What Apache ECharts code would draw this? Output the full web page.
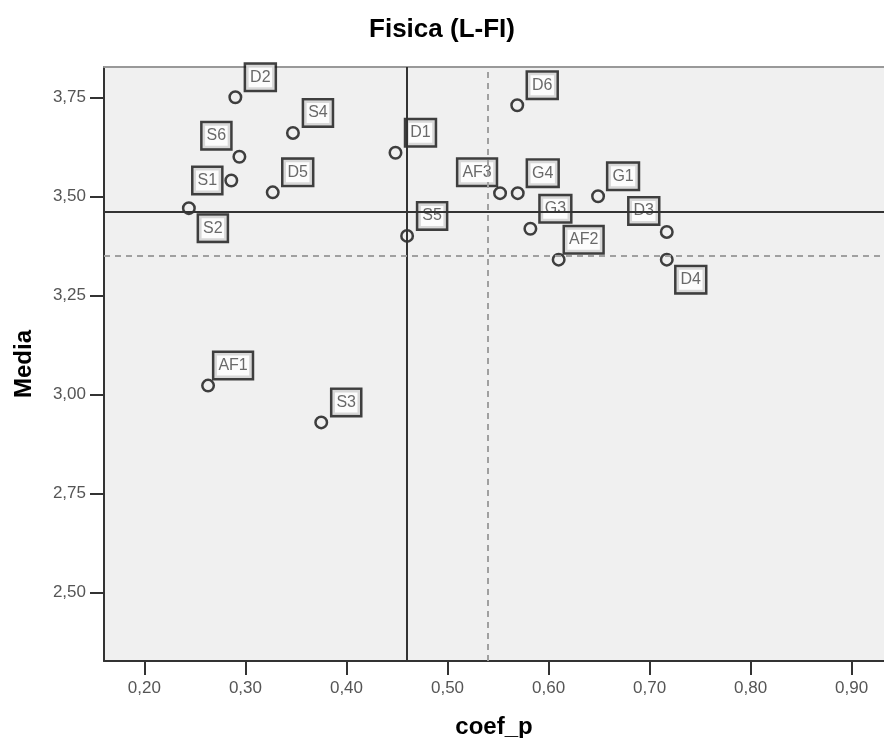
<!DOCTYPE html>
<html>
<head>
<meta charset="utf-8">
<script src="https://cdn.jsdelivr.net/npm/echarts@6/dist/echarts.min.js"></script>
<style>
html,body{margin:0;padding:0;background:#fff;}
#chart{width:884px;height:738px;}
</style>
</head>
<body>
<div id="chart"></div>
<script>
// ---- data ----
const categories = ['D2','S6','S1','S2','D5','S4','D1','S5','AF3','G4','D6','G3','AF2','G1','D3','D4','AF1','S3'];
const coefP = [0.290,0.294,0.286,0.244,0.327,0.347,0.4485,0.460,0.552,0.5695,0.569,0.582,0.610,0.649,0.717,0.717,0.263,0.375];
const media = [3.75,3.60,3.54,3.47,3.51,3.66,3.61,3.40,3.508,3.508,3.73,3.418,3.34,3.50,3.41,3.34,3.022,2.929];
const xTicks = [0.20,0.30,0.40,0.50,0.60,0.70,0.80,0.90];
const yTicks = [2.50,2.75,3.00,3.25,3.50,3.75];
const refSolid = {x: 0.460, y: 3.460};
const refDashed = {x: 0.540, y: 3.351};

// ---- label placement (style) ----
const placeOf = {S6:'ul', AF3:'ul', D3:'ul', S1:'l', S2:'dr', D4:'dr'};
const offsets = {ur:[25,-20], ul:[-23,-21], l:[-24,0], dr:[24,20]};

const FONT = '"Liberation Sans", Arial, sans-serif';
const fmt = v => v.toFixed(2).replace('.', ',');

const points = categories.map((c, i) => ({
  name: c,
  value: [coefP[i], media[i]],
  label: { offset: offsets[placeOf[c] || 'ur'] }
}));

const chart = echarts.init(document.getElementById('chart'));
chart.setOption({
  animation: false,
  backgroundColor: '#ffffff',
  title: {
    text: 'Fisica (L-FI)',
    left: 'center',
    top: 12,
    textStyle: { fontFamily: FONT, fontSize: 26, fontWeight: 'bold', color: '#000' }
  },
  grid: {
    left: 104, right: 0, top: 67, bottom: 77,
    outerBoundsMode: 'none', containLabel: false,
    show: true, backgroundColor: '#f0f0f0', borderWidth: 0
  },
  xAxis: [{
    type: 'value', min: 0.16, max: 0.932,
    name: 'coef_p', nameLocation: 'middle', nameGap: 54,
    nameTextStyle: { fontFamily: FONT, fontSize: 24, fontWeight: 'bold', color: '#000' },
    axisLine: { show: true, onZero: false, lineStyle: { color: '#333', width: 2 } },
    axisTick: { show: true, customValues: xTicks, length: 14, lineStyle: { color: '#333', width: 2 } },
    axisLabel: { customValues: xTicks, formatter: fmt, color: '#555', fontSize: 17, fontFamily: FONT, margin: 19 },
    splitLine: { show: false }
  }, {
    type: 'value', position: 'top', min: 0.16, max: 0.932,
    axisLine: { show: true, onZero: false, lineStyle: { color: '#999', width: 2 } },
    axisTick: { show: false }, axisLabel: { show: false }, splitLine: { show: false }
  }],
  yAxis: {
    type: 'value', min: 2.3265, max: 3.8265,
    name: 'Media', nameLocation: 'middle', nameGap: 68,
    nameTextStyle: { fontFamily: FONT, fontSize: 24, fontWeight: 'bold', color: '#000' },
    axisLine: { show: true, onZero: false, lineStyle: { color: '#333', width: 2 } },
    axisTick: { show: true, customValues: yTicks, length: 14, lineStyle: { color: '#333', width: 2 } },
    axisLabel: { customValues: yTicks, formatter: fmt, color: '#555', fontSize: 17, fontFamily: FONT, margin: 18 },
    splitLine: { show: false }
  },
  series: [{
    type: 'scatter',
    data: [],
    z: 1,
    markLine: {
      silent: true, symbol: 'none', label: { show: false },
      data: [
        { xAxis: refSolid.x, lineStyle: { color: '#333', width: 2, type: 'solid' } },
        { yAxis: refSolid.y, lineStyle: { color: '#333', width: 2, type: 'solid' } },
        { xAxis: refDashed.x, lineStyle: { color: '#a0a0a0', width: 2, type: [6, 5] } },
        { yAxis: refDashed.y, lineStyle: { color: '#a0a0a0', width: 2, type: [6, 5] } }
      ]
    }
  }, {
    type: 'scatter',
    z: 3,
    symbol: 'circle',
    symbolSize: 11.5,
    itemStyle: { color: 'rgba(0,0,0,0)', borderColor: '#111', borderWidth: 2.5 },
    label: {
      show: true,
      position: 'inside',
      formatter: p => p.name,
      fontFamily: FONT, fontSize: 16, lineHeight: 16, color: '#444',
      backgroundColor: '#ffffff', borderColor: '#111', borderWidth: 2.5,
      padding: [5, 4, 4, 4]
    },
    data: points
  }]
});
</script>
</body>
</html>
